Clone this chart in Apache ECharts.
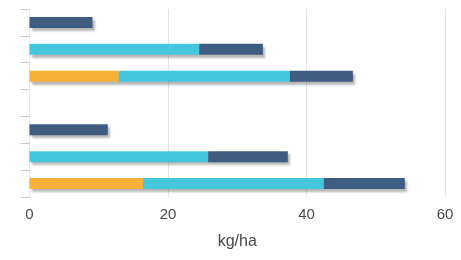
<!DOCTYPE html>
<html>
<head>
<meta charset="utf-8">
<script src="https://cdn.jsdelivr.net/npm/echarts@6/dist/echarts.min.js"></script>
<style>
    html, body {margin: 0; padding: 0; background: #fff;}
    #chart {width: 461px; height: 260px;}
</style>
</head>
<body>
<div id="chart"></div>
<script>
// categories top to bottom, the 4th slot is an empty gap
const categories = ['a1', 'a2', 'a3', 'gap', 'b1', 'b2', 'b3'];
const orangeValues = ['-', '-', 12.9, '-', '-', '-', 16.4];
const cyanValues = ['-', 24.5, 24.7, '-', '-', 25.8, 26.1];
const navyValues = [9.1, 9.2, 9.1, '-', 11.3, 11.5, 11.7];
const xTicks = [0, 20, 40, 60];

const shadow = {
    shadowColor: 'rgba(0,0,0,0.28)',
    shadowBlur: 2,
    shadowOffsetX: 2,
    shadowOffsetY: 3
};

function barSeries(name, data, color) {
    return {
        name: name,
        type: 'bar',
        stack: 'total',
        barWidth: 11,
        data: data,
        itemStyle: Object.assign({color: color}, shadow)
    };
}

const chart = echarts.init(document.getElementById('chart'));
chart.setOption({
    animation: false,
    backgroundColor: '#fff',
    grid: {left: 29.5, right: 16, top: 9, bottom: 63},
    xAxis: {
        type: 'value',
        min: xTicks[0],
        max: xTicks[xTicks.length - 1],
        interval: 20,
        name: 'kg/ha',
        nameLocation: 'middle',
        nameGap: 37,
        nameTextStyle: {fontSize: 16, color: '#4a4a4a', fontFamily: 'Liberation Sans'},
        axisLine: {show: false},
        axisTick: {show: false},
        axisLabel: {fontSize: 15, color: '#4a4a4a', margin: 10, fontFamily: 'Liberation Sans'},
        splitLine: {lineStyle: {color: '#e4e4e4', width: 1}}
    },
    yAxis: {
        type: 'category',
        data: categories,
        inverse: true,
        axisLine: {lineStyle: {color: '#e6e6e6'}},
        axisTick: {show: true, length: 9, lineStyle: {color: '#c8c8c8'}},
        axisLabel: {show: false}
    },
    series: [
        barSeries('orange', orangeValues, '#f5b13a'),
        barSeries('cyan', cyanValues, '#44c7dc'),
        barSeries('navy', navyValues, '#3e5d80')
    ]
});
</script>
</body>
</html>
